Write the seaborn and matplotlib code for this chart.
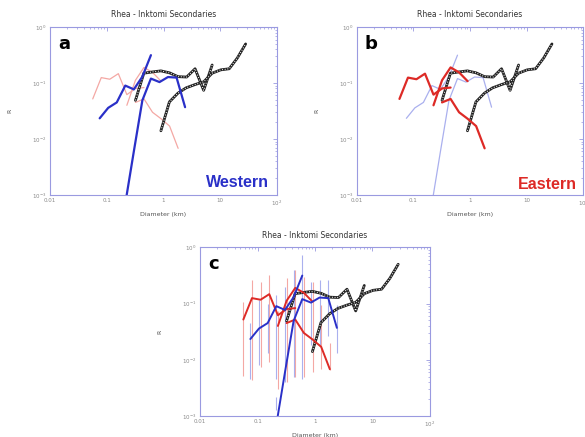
import numpy as np
import pandas as pd
import matplotlib
matplotlib.use("Agg")
import matplotlib.pyplot as plt
import seaborn as sns

# Western (blue) secondaries, R values per sqrt(2) diameter bin (km)
west_small_d = [0.075, 0.106, 0.15, 0.212, 0.3, 0.424, 0.6]
west_small_r = [0.0234, 0.036, 0.045, 0.090, 0.077, 0.13, 0.315]
west_large_d = [0.212, 0.3, 0.424, 0.6, 0.85, 1.2, 1.7, 2.4]
west_large_r = [0.0007, 0.006, 0.049, 0.12, 0.104, 0.128, 0.125, 0.037]

# Eastern (red) secondaries
east_small_d = [0.0566, 0.08, 0.113, 0.16, 0.226, 0.32, 0.453]
east_small_r = [0.052, 0.125, 0.117, 0.147, 0.062, 0.080, 0.083]
east_mid_d = [0.226, 0.32, 0.453, 0.64, 0.905]
east_mid_r = [0.040, 0.112, 0.19, 0.155, 0.108]
east_large_d = [0.32, 0.453, 0.64, 0.905, 1.28, 1.81]
east_large_r = [0.045, 0.052, 0.030, 0.023, 0.017, 0.0068]

# reference crater counts (black dashed)
ref_a_d = [0.32, 0.45, 0.64, 0.9, 1.28, 1.8, 2.56, 3.6, 5.1, 7.2]
ref_a_r = [0.049, 0.15, 0.158, 0.165, 0.152, 0.13, 0.128, 0.18, 0.074, 0.21]
ref_b_d = [0.9, 1.27, 1.8, 2.5, 3.6, 5.1, 7.2, 10.2, 14.4, 20, 28]
ref_b_r = [0.014, 0.046, 0.066, 0.082, 0.094, 0.105, 0.15, 0.172, 0.18, 0.28, 0.50]

# error bars shown in panel c
east_err_d = [0.0566, 0.08, 0.113, 0.16, 0.226, 0.32, 0.453, 0.64, 0.905, 1.28, 1.81]
east_err_lo = [0.0052, 0.0043, 0.0074, 0.009, 0.003, 0.004, 0.005, 0.005, 0.006, 0.007, 0.0065]
east_err_hi = [0.107, 0.26, 0.24, 0.32, 0.075, 0.28, 0.39, 0.30, 0.24, 0.093, 0.020]
west_err_d = [0.075, 0.106, 0.15, 0.212, 0.212, 0.3, 0.424, 0.6, 0.85, 1.2, 1.7, 2.4]
west_err_lo = [0.0045, 0.008, 0.013, 0.0046, 0.0013, 0.004, 0.005, 0.0046, 0.018, 0.018, 0.027, 0.013]
west_err_hi = [0.045, 0.115, 0.10, 0.14, 0.0022, 0.20, 0.40, 0.72, 0.245, 0.26, 0.26, 0.093]

x_ticks = [0.01, 0.1, 1, 10, 100]
x_tick_labels = ["0.01", "0.1", "1", "10", "$10^2$"]
y_ticks = [0.001, 0.01, 0.1, 1]
y_tick_labels = ["$10^{-3}$", "$10^{-2}$", "$10^{-1}$", "$10^{0}$"]

title = "Rhea - Inktomi Secondaries"

sns.set_style("white")
plt.rcParams["font.family"] = ["DejaVu Sans"]

BLUE = "#2a30c8"
RED = "#dd2a26"
BLUE_FAINT = "#aab0ee"
RED_FAINT = "#f4a8a4"
FRAME = "#9a9ae0"

fig = plt.figure(figsize=(5.85, 4.37), dpi=100)
ax_a = fig.add_axes([0.0855, 0.554, 0.388, 0.384])
ax_b = fig.add_axes([0.610, 0.554, 0.387, 0.384])
ax_c = fig.add_axes([0.342, 0.048, 0.393, 0.386])


def draw_line(ax, d, r, color, lw, **kw):
    df = pd.DataFrame({"d": d, "r": r})
    sns.lineplot(data=df, x="d", y="r", ax=ax, color=color, linewidth=lw,
                 sort=False, estimator=None, legend=False, **kw)


def draw_refs(ax):
    # black line with short white gaps
    for d, r in [(ref_a_d, ref_a_r), (ref_b_d, ref_b_r)]:
        draw_line(ax, d, r, "#222222", 2.0)
        draw_line(ax, d, r, "white", 0.8, linestyle=(0, (0.8, 1.6)))


def style_axes(ax, letter):
    ax.set_xscale("log")
    ax.set_yscale("log")
    ax.set_xlim(0.01, 100)
    ax.set_ylim(0.001, 1)
    ax.set_xticks(x_ticks, x_tick_labels)
    ax.set_yticks(y_ticks, y_tick_labels)
    ax.tick_params(which="both", direction="in", top=True, right=True,
                   color=FRAME, labelcolor="#888888", labelsize=4, pad=2.5)
    ax.tick_params(which="major", length=3, width=0.6)
    ax.tick_params(which="minor", length=1.5, width=0.5)
    for s in ax.spines.values():
        s.set_color(FRAME)
        s.set_linewidth(0.8)
    ax.set_xlabel("Diameter (km)", fontsize=4.5, color="#555555", labelpad=3)
    ax.set_ylabel("R", fontsize=4.5, color="#555555", labelpad=14)
    ax.set_title(title, fontsize=5.5, color="#333333", pad=7)
    ax.text(0.035, 0.955, letter, transform=ax.transAxes, ha="left", va="top",
            fontsize=13, fontweight="bold", color="black")


# panel a: western highlighted
draw_line(ax_a, east_small_d, east_small_r, RED_FAINT, 0.9)
draw_line(ax_a, east_mid_d, east_mid_r, RED_FAINT, 0.9)
draw_line(ax_a, east_large_d, east_large_r, RED_FAINT, 0.9)
draw_refs(ax_a)
draw_line(ax_a, west_small_d, west_small_r, BLUE, 1.6)
draw_line(ax_a, west_large_d, west_large_r, BLUE, 1.6)
style_axes(ax_a, "a")
ax_a.text(0.965, 0.045, "Western", transform=ax_a.transAxes, ha="right", va="baseline",
          fontsize=11.5, fontweight="bold", color=BLUE, family=["Liberation Sans"])

# panel b: eastern highlighted
draw_line(ax_b, west_small_d, west_small_r, BLUE_FAINT, 0.9)
draw_line(ax_b, west_large_d, west_large_r, BLUE_FAINT, 0.9)
draw_refs(ax_b)
draw_line(ax_b, east_small_d, east_small_r, RED, 1.6)
draw_line(ax_b, east_mid_d, east_mid_r, RED, 1.6)
draw_line(ax_b, east_large_d, east_large_r, RED, 1.6)
style_axes(ax_b, "b")
ax_b.text(0.97, 0.035, "Eastern", transform=ax_b.transAxes, ha="right", va="baseline",
          fontsize=11.5, fontweight="bold", color=RED, family=["Liberation Sans"])

# panel c: both with error bars
ax_c.vlines(east_err_d, east_err_lo, east_err_hi, color=RED_FAINT, linewidth=0.8)
ax_c.vlines(west_err_d, west_err_lo, west_err_hi, color=BLUE_FAINT, linewidth=0.8)
draw_refs(ax_c)
draw_line(ax_c, east_small_d, east_small_r, RED, 1.4)
draw_line(ax_c, east_mid_d, east_mid_r, RED, 1.4)
draw_line(ax_c, east_large_d, east_large_r, RED, 1.4)
draw_line(ax_c, west_small_d, west_small_r, BLUE, 1.4)
draw_line(ax_c, west_large_d, west_large_r, BLUE, 1.4)
style_axes(ax_c, "c")

fig.savefig("out.png", dpi=100)
